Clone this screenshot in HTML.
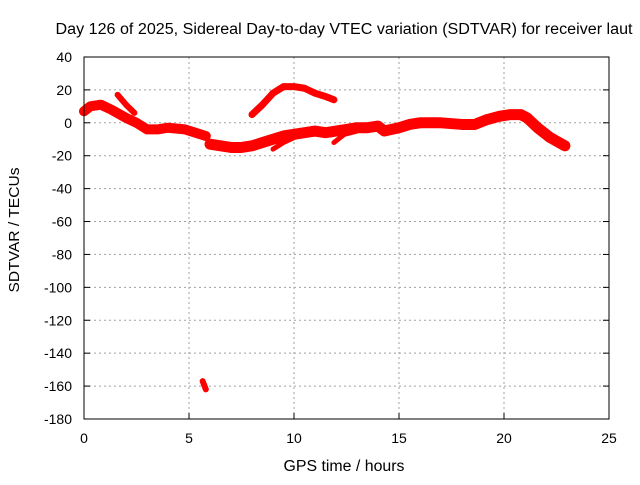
<!DOCTYPE html>
<html><head><meta charset="utf-8"><style>
body{margin:0;background:#fff}
svg text{font-family:"Liberation Sans",sans-serif;font-size:14px;fill:#000}
</style></head><body>
<svg width="640" height="480">
<rect x="0" y="0" width="640" height="480" fill="#fff"/>
<text x="344" y="34" text-anchor="middle" textLength="577" lengthAdjust="spacingAndGlyphs" style="font-size:15.5px">Day 126 of 2025, Sidereal Day-to-day VTEC variation (SDTVAR) for receiver laut</text>
<g id="grid"></g>
<g id="series"></g>
<rect x="84" y="57" width="525" height="362" fill="none" stroke="#000" stroke-width="1"/>
<g id="ticks"></g>
<text x="344" y="471" text-anchor="middle" textLength="121" lengthAdjust="spacingAndGlyphs" style="font-size:15.5px">GPS time / hours</text>
<text transform="translate(19,230) rotate(-90)" text-anchor="middle" textLength="125" lengthAdjust="spacingAndGlyphs" style="font-size:15px">SDTVAR / TECUs</text>
</svg>
<script>
const xTicks=[0,5,10,15,20,25];
const yTicks=[40,20,0,-20,-40,-60,-80,-100,-120,-140,-160,-180];
const mainHours=[0,0.3,0.8,1.3,2,2.5,3,3.5,4,4.8,5.8];
const mainVals=[7,10,11,8,3,0,-4,-4,-3,-4,-8];
const main2Hours=[6,6.5,7,7.5,8,8.5,9,9.5,10,10.5,11,11.5,12,12.5,13,13.5,14,14.3,15,15.5,16,17,18,18.6,19.2,19.8,20.3,20.8,21.1,21.6,22.2,22.9];
const main2Vals=[-13,-14,-15,-15,-14,-12,-10,-8,-7,-6,-5,-6,-5,-4,-3,-3,-2,-5,-3,-1,0,0,-1,-1,2,4,5,5,3,-3,-9,-14];
const arcHours=[8,8.5,9,9.5,10,10.5,11,11.5,11.9];
const arcVals=[5,11,18,22,22,21,18,16,14];
const branch1Hours=[1.6,2,2.4];
const branch1Vals=[17,11,6];
const branch2Hours=[9,9.5,10];
const branch2Vals=[-16,-12,-9];
const branch3Hours=[11.9,12.4,13];
const branch3Vals=[-12,-7,-5];
const outHours=[5.65,5.8];
const outVals=[-157,-162];
const X=h=>84+h*21, Y=v=>122.8-v*(362/220);
const NS="http://www.w3.org/2000/svg";
const grid=document.getElementById('grid'),ticks=document.getElementById('ticks'),ser=document.getElementById('series');
function mk(tag,attrs,parent){const e=document.createElementNS(NS,tag);for(const k in attrs)e.setAttribute(k,attrs[k]);parent.appendChild(e);return e;}
xTicks.forEach(t=>{
 if(t>0&&t<25){const g=mk('line',{x1:X(t),x2:X(t),y1:57,y2:419,stroke:'#a0a0a0','stroke-dasharray':'2,3'},grid);
 
 }
 const tl=mk('line',{x1:X(t),x2:X(t),y1:419,y2:413,stroke:'#000'},ticks);
 
 
 const tx=mk('text',{x:X(t),y:443,'text-anchor':'middle'},ticks);tx.textContent=t;
 
 
});
yTicks.forEach(t=>{
 if(t<40&&t>-180){const g=mk('line',{x1:84,x2:609,y1:Y(t),y2:Y(t),stroke:'#a0a0a0','stroke-dasharray':'2,3'},grid);
 
 }
 const tl=mk('line',{x1:84,x2:90,y1:Y(t),y2:Y(t),stroke:'#000'},ticks);
 
 
 const tr=mk('line',{x1:603,x2:609,y1:Y(t),y2:Y(t),stroke:'#000'},ticks);
 
 
 const tx=mk('text',{x:72,y:Y(t)+5,'text-anchor':'end'},ticks);tx.textContent=t;
 
 
});
function line(hs,vs,w,name){
 const p=mk('polyline',{points:hs.map((h,i)=>X(h)+','+Y(vs[i])).join(' '),fill:'none',stroke:'#ff0000','stroke-width':w,'stroke-linejoin':'round','stroke-linecap':'round'},ser);
 
 
}
line(mainHours,mainVals,10,'series-main-early');
line(main2Hours,main2Vals,11,'series-main-late');
line(arcHours,arcVals,7,'series-arc');
line(branch1Hours,branch1Vals,6,'series-branch-1');
line(branch2Hours,branch2Vals,5,'series-branch-2');
line(branch3Hours,branch3Vals,5,'series-branch-3');
line(outHours,outVals,6,'series-outlier');
</script>
</body></html>
